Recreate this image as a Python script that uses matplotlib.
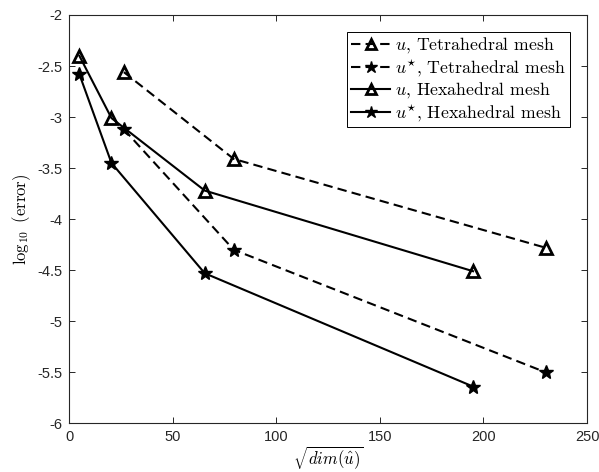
import matplotlib
matplotlib.use("Agg")
import matplotlib.pyplot as plt

plt.rcParams["mathtext.fontset"] = "cm"
plt.rcParams["axes.formatter.use_mathtext"] = False

# sqrt(dim(u_hat)) for each mesh refinement
tet_x = [26.5, 79.5, 230.0]
hex_x = [5.0, 20.5, 65.5, 195.0]

# log10 of the errors
tet_u = [-2.56, -3.41, -4.28]
tet_ustar = [-3.12, -4.30, -5.50]
hex_u = [-2.40, -3.01, -3.72, -4.51]
hex_ustar = [-2.58, -3.45, -4.53, -5.64]

labels = [r"$u$, Tetrahedral mesh", r"$u^{\star}$, Tetrahedral mesh",
          r"$u$, Hexahedral mesh", r"$u^{\star}$, Hexahedral mesh"]

xticks = [0, 50, 100, 150, 200, 250]
yticks = [-6, -5.5, -5, -4.5, -4, -3.5, -3, -2.5, -2]
ytick_labels = ["-6", "-5.5", "-5", "-4.5", "-4", "-3.5", "-3", "-2.5", "-2"]

fig = plt.figure(figsize=(5.99, 4.72), dpi=100)
ax = fig.add_axes([69 / 599, (472 - 423.3) / 472, 518 / 599, 408.3 / 472])

tri = dict(marker="^", markersize=8, markerfacecolor="none",
           markeredgewidth=2.0, markeredgecolor="k")
star = dict(marker="*", markersize=10.5, markerfacecolor="k",
            markeredgewidth=1.0, markeredgecolor="k")
dash = (0, (4.5, 2.5))

ax.plot(tet_x, tet_u, color="k", lw=1.5, linestyle=dash, label=labels[0], **tri)
ax.plot(tet_x, tet_ustar, color="k", lw=1.5, linestyle=dash, label=labels[1], **star)
ax.plot(hex_x, hex_u, color="k", lw=1.5, linestyle="-", label=labels[2], **tri)
ax.plot(hex_x, hex_ustar, color="k", lw=1.5, linestyle="-", label=labels[3], **star)

ax.set_xlim(0, 250)
ax.set_ylim(-6, -2)
ax.set_xticks(xticks)
ax.set_xticklabels([str(t) for t in xticks], fontfamily="Liberation Sans", fontsize=10.5)
ax.set_yticks(yticks)
ax.set_yticklabels(ytick_labels, fontfamily="Liberation Sans", fontsize=10.5)

spine_c = "#262626"
for s in ax.spines.values():
    s.set_color(spine_c)
    s.set_linewidth(0.8)
ax.tick_params(direction="in", length=4, width=0.7, color=spine_c,
               labelcolor=spine_c, top=True, right=True, pad=5)

ax.set_xlabel(r"$\sqrt{dim(\hat{u})}$", fontsize=12, labelpad=0)
ax.set_ylabel(r"$\log_{10}$ (error)", fontsize=12, family="cmr10", labelpad=3)

leg = ax.legend(loc="upper right", bbox_to_anchor=(1 - 17 / 518, 1 - 17 / 408.3),
                borderaxespad=0, prop={"family": "cmr10", "size": 12.8},
                fancybox=False, edgecolor="k", framealpha=1, markerscale=0.85,
                handlelength=2.2, handletextpad=0.3, borderpad=0.2,
                labelspacing=0.1)
leg.get_frame().set_linewidth(0.7)

fig.savefig("out.png", dpi=100)
